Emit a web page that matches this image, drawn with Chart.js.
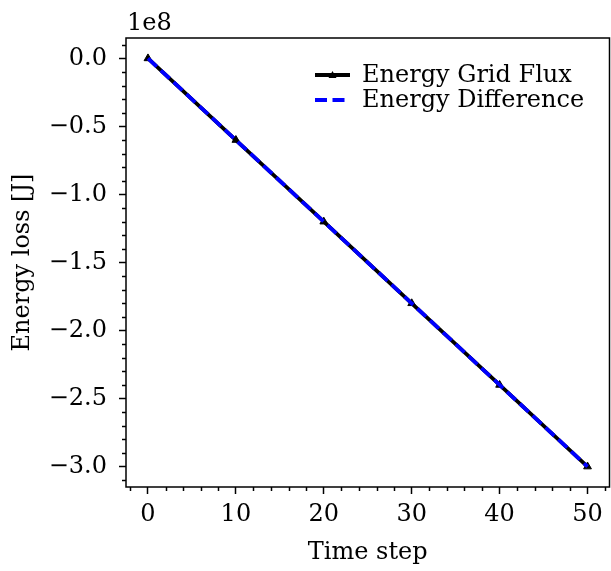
<!DOCTYPE html>
<html>
<head>
<meta charset="utf-8">
<script src="https://cdn.jsdelivr.net/npm/chart.js@4"></script>
<style>
  body { margin: 0; background: #ffffff; }
  canvas { display: block; }
</style>
</head>
<body>
<canvas id="energyChart" width="611" height="571"></canvas>
<script>
// === Data ===
const timeSteps = [0, 10, 20, 30, 40, 50];
const gridFlux = [0, -0.6e8, -1.2e8, -1.8e8, -2.4e8, -3.0e8];
const energyDiff = [0, -0.6e8, -1.2e8, -1.8e8, -2.4e8, -3.0e8];

const xTicks = [0, 10, 20, 30, 40, 50];
const yTicks = [0, -0.5e8, -1.0e8, -1.5e8, -2.0e8, -2.5e8, -3.0e8];
const seriesLabels = ["Energy Grid Flux", "Energy Difference"];

const FONT = "'DejaVu Serif', serif";
const FSIZE = 24;

// === Minor ticks, top/right spines, offset text and legend ===
const decorPlugin = {
  id: "decor",
  afterDraw(chart) {
    const ctx = chart.ctx;
    const area = chart.chartArea;
    const xs = chart.scales.x;
    const ys = chart.scales.y;

    ctx.save();
    ctx.strokeStyle = "#000000";
    ctx.lineWidth = 1.5;

    // minor ticks on x (every 2)
    for (let v = -2; v <= 52; v += 2) {
      if (v % 10 === 0) continue;
      const px = Math.round(xs.getPixelForValue(v)) + 0.5;
      ctx.beginPath();
      ctx.moveTo(px, area.bottom);
      ctx.lineTo(px, area.bottom + 4);
      ctx.stroke();
    }
    // minor ticks on y (every 0.1e8)
    for (let k = -31; k <= 1; k++) {
      if (k % 5 === 0) continue;
      const py = Math.round(ys.getPixelForValue(k * 1e7)) + 0.5;
      ctx.beginPath();
      ctx.moveTo(area.left, py);
      ctx.lineTo(area.left - 4, py);
      ctx.stroke();
    }

    // spines
    ctx.strokeRect(area.left, area.top, area.right - area.left, area.bottom - area.top);

    // offset label
    ctx.fillStyle = "#000000";
    ctx.font = FSIZE + "px " + FONT;
    ctx.textAlign = "left";
    ctx.textBaseline = "alphabetic";
    ctx.fillText("1e8", area.left + 1, area.top - 8);

    // legend
    const ds = chart.data.datasets;
    const hx0 = 315, hx1 = 350, tx = 362;
    const rows = [75, 100];
    ds.forEach((d, i) => {
      const y = rows[i];
      ctx.beginPath();
      ctx.strokeStyle = d.borderColor;
      ctx.lineWidth = d.borderWidth;
      ctx.setLineDash(d.borderDash || []);
      ctx.moveTo(hx0, y);
      ctx.lineTo(hx1, y);
      ctx.stroke();
      ctx.setLineDash([]);
      if (d.pointRadius > 0) {
        const cx = (hx0 + hx1) / 2;
        const r = 4;
        ctx.beginPath();
        ctx.fillStyle = d.pointBackgroundColor;
        ctx.moveTo(cx, y - r);
        ctx.lineTo(cx + r, y + r * 0.75);
        ctx.lineTo(cx - r, y + r * 0.75);
        ctx.closePath();
        ctx.fill();
      }
      ctx.fillStyle = "#000000";
      ctx.textBaseline = "middle";
      ctx.fillText(d.label, tx, y + 1);
    });
    ctx.restore();
  },
};

const fmtY = (v) => {
  const s = (v / 1e8).toFixed(1);
  return s === "-0.0" ? "0.0" : s.replace("-", "\u2212");
};

new Chart(document.getElementById("energyChart"), {
  type: "line",
  data: {
    datasets: [
      {
        label: seriesLabels[0],
        data: timeSteps.map((t, i) => ({ x: t, y: gridFlux[i] })),
        borderColor: "#000000",
        backgroundColor: "#000000",
        pointBackgroundColor: "#000000",
        pointBorderColor: "#000000",
        pointStyle: "triangle",
        pointRadius: 4.5,
        pointBorderWidth: 1,
        borderWidth: 3.8,
        tension: 0,
        order: 2,
      },
      {
        label: seriesLabels[1],
        data: timeSteps.map((t, i) => ({ x: t, y: energyDiff[i] })),
        borderColor: "#0000ff",
        backgroundColor: "#0000ff",
        borderDash: [12, 5.5],
        borderWidth: 3.8,
        pointRadius: 0,
        tension: 0,
        order: 1,
      },
    ],
  },
  options: {
    responsive: false,
    animation: false,
    layout: { autoPadding: false, padding: { top: 38, right: 1.5, left: 0, bottom: 0 } },
    plugins: {
      legend: { display: false },
      tooltip: { enabled: false },
    },
    scales: {
      x: {
        type: "linear",
        min: -2.5,
        max: 52.5,
        afterBuildTicks: (scale) => {
          scale.ticks = xTicks.map((v) => ({ value: v }));
        },
        afterFit: (scale) => {
          scale.height = 84;
          scale.paddingLeft = 0;
          scale.paddingRight = 0;
        },
        border: { display: false },
        grid: {
          drawOnChartArea: false,
          drawTicks: true,
          tickLength: 7,
          tickWidth: 1.5,
          tickColor: "#000000",
        },
        ticks: {
          color: "#000000",
          font: { family: FONT, size: FSIZE },
          padding: 6,
          maxRotation: 0,
          autoSkip: false,
          callback: (v) => String(v),
        },
        title: {
          display: true,
          text: "Time step",
          color: "#000000",
          font: { family: FONT, size: FSIZE },
          padding: { top: 0, bottom: 4 },
        },
      },
      y: {
        type: "linear",
        min: -3.15e8,
        max: 0.15e8,
        afterBuildTicks: (scale) => {
          scale.ticks = yTicks.map((v) => ({ value: v }));
        },
        afterFit: (scale) => {
          scale.width = 126;
          scale.paddingTop = 0;
          scale.paddingBottom = 0;
        },
        border: { display: false },
        grid: {
          drawOnChartArea: false,
          drawTicks: true,
          tickLength: 7,
          tickWidth: 1.5,
          tickColor: "#000000",
        },
        ticks: {
          color: "#000000",
          font: { family: FONT, size: FSIZE },
          padding: 12,
          autoSkip: false,
          callback: fmtY,
        },
        title: {
          display: true,
          text: "Energy loss [J]",
          color: "#000000",
          font: { family: FONT, size: FSIZE },
          padding: { top: 8, bottom: 4 },
        },
      },
    },
  },
  plugins: [decorPlugin],
});
</script>
</body>
</html>
